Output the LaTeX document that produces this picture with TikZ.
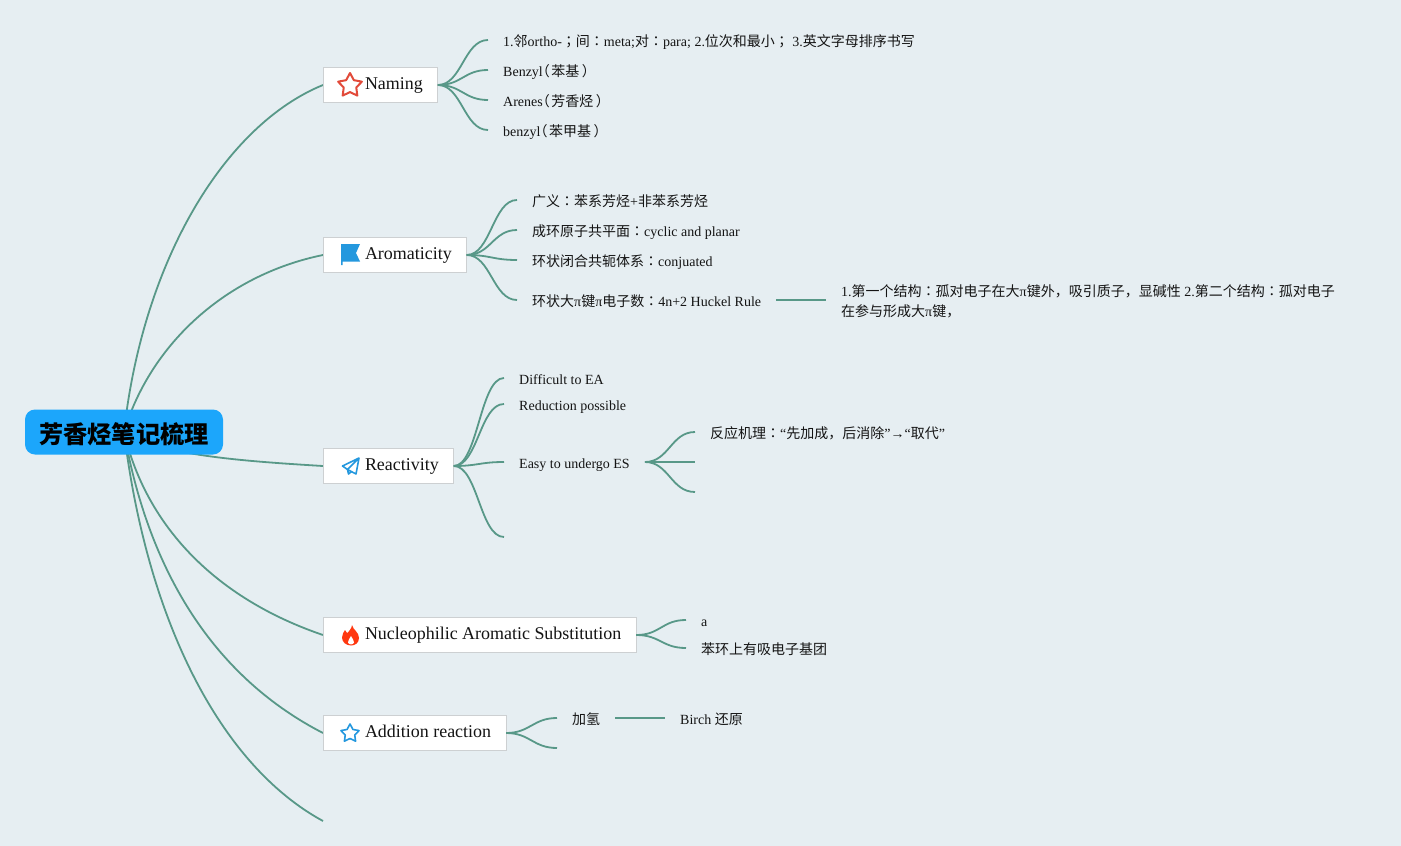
\documentclass[tikz,border=0pt]{standalone}
\usepackage{fontspec}
\usepackage{xcolor}
\setmainfont{Liberation Serif}
\newfontfamily\cjk{Noto Sans CJK SC}
\newfontfamily\cjktc{Noto Sans CJK TC}
\newfontfamily\cjkhalf[RawFeature=+halt]{Noto Sans CJK SC}
\newcommand{\cn}[1]{{\cjk #1}}
\newcommand{\cq}[1]{{\cjktc #1}}
\newcommand{\lparen}{{\cjkhalf （}\kern1.5pt}
\newcommand{\rparen}{\kern2.5pt{\cjkhalf ）}}
\usetikzlibrary{backgrounds,shapes.geometric}
\definecolor{paper}{RGB}{230,238,242}
\definecolor{linkgreen}{RGB}{88,152,136}
\definecolor{rootblue}{RGB}{28,166,251}
\definecolor{boxgray}{RGB}{205,208,210}
\definecolor{iconred}{RGB}{226,74,58}
\definecolor{iconblue}{RGB}{36,152,222}
\definecolor{flamered}{RGB}{255,56,16}
\definecolor{inkblack}{RGB}{20,20,20}
\tikzset{
  link/.style={linkgreen,line width=1.8pt},
  fork/.style={link,out=0,in=180,out distance=24pt,in distance=24pt},
  branch/.style={draw=boxgray,fill=white,line width=0.8pt,anchor=west,outer sep=0pt,inner xsep=15pt,inner ysep=0pt,
    minimum height=35pt,text height=12.1pt,text depth=3.9pt,font=\fontsize{17.95}{20}\selectfont,text=inkblack},
  leaf/.style={anchor=west,inner xsep=15pt,inner ysep=0pt,text height=13pt,text depth=1pt,
    font=\fontsize{14}{20}\selectfont,text=inkblack},
  note/.style={anchor=west,inner xsep=15pt,inner ysep=0pt,align=left,
    font=\fontsize{14}{20}\selectfont,text=inkblack},
}
\begin{document}
\begin{tikzpicture}[x=1pt,y=-1pt]
  % --- Page ---
  \useasboundingbox (0,0) rectangle (1401,846);
  \begin{scope}[on background layer]
    \fill[paper] (0,0) rectangle (1401,846);
  \end{scope}

  % --- Root ---
  \node[fill=rootblue,rounded corners=10pt,minimum width=198pt,minimum height=45pt,inner sep=0pt,
    text height=27pt,text depth=4pt,font=\fontsize{24.2}{28}\selectfont\cjk\bfseries,text=black] (root) at (124,432) {芳香烃笔记梳理};

  % --- Branches ---
  \node[branch] (naming) at (323,85) {\hspace{27pt}Naming};
  \node[branch] (aroma) at (323,255) {\hspace{27pt}Aromaticity};
  \node[branch] (react) at (323,466) {\hspace{27pt}Reactivity};
  \node[branch] (nucleo) at (323,635) {\hspace{27pt}Nucleophilic Aromatic Substitution};
  \node[branch] (addition) at (323,733) {\hspace{27pt}Addition reaction};
  \coordinate (lastend) at (323,821);

  % --- Curves from the root, under its box ---
  \begin{scope}[on background layer]
    \draw[link] (root.center) .. controls (143,260) and (225,125) .. (naming.west);
    \draw[link] (root.center) .. controls (150,345) and (225,275) .. (aroma.west);
    \draw[link] (root.center) .. controls (160,455) and (240,461) .. (react.west);
    \draw[link] (root.center) .. controls (147,530) and (220,600) .. (nucleo.west);
    \draw[link] (root.center) .. controls (150,580) and (220,680) .. (addition.west);
    \draw[link] (root.center) .. controls (147,620) and (220,765) .. (lastend);
  \end{scope}

  % --- Icons ---
  \node[star,star points=5,star point ratio=1.9,draw=iconred,line width=2pt,line join=round,
    minimum size=25pt,inner sep=0pt] (staricon) at (350,85.5) {};
  \fill[iconblue] (341,244) -- (360,244) -- (356,253) -- (360,261.5) -- (342.5,261.5)
    -- (342.5,265) -- (341,265) -- cycle;
  \draw[iconblue,line width=1.6pt,line join=round] (359,458) -- (342.5,466) -- (347.5,469.5) -- cycle
    (359,458) -- (356,474) -- (347.5,469.5) -- (348.5,474) -- (351.5,471.5);
  \fill[flamered] (352,625) .. controls (353,630) and (359,632) .. (359,638)
    .. controls (359,643) and (355,645.5) .. (351,645.5)
    .. controls (346,645.5) and (342,642) .. (342,637.5)
    .. controls (342,634) and (344,632) .. (345,630)
    .. controls (346,632) and (347,633) .. (347.5,633)
    .. controls (349,631) and (352,628) .. (352,625) -- cycle;
  \fill[white] (351,636) .. controls (352,639) and (354.5,640) .. (354,642.5)
    .. controls (353.5,645) and (348.5,645) .. (348,642.5)
    .. controls (347.5,640) and (350,639) .. (351,636) -- cycle;
  \node[star,star points=5,star point ratio=1.9,draw=iconblue,line width=1.6pt,line join=round,
    minimum size=19pt,inner sep=0pt] (stariconb) at (350,733.5) {};

  % --- Naming ---
  \foreach \i/\yy/\txt in {
    a/40/{1.\cn{邻}ortho-\cq{；}\cn{间}\cq{：}meta;\cn{对}\cq{：}para; 2.\cn{位次和最小}\cq{；} 3.\cn{英文字母排序书写}},
    b/70/{Benzyl\lparen\cn{苯基}\rparen},
    c/100/{Arenes\lparen\cn{芳香烃}\rparen},
    d/130/{benzyl\lparen\cn{苯甲基}\rparen}}{%
    \node[leaf] (naming\i) at (488,\yy) {\txt};
    \draw[fork] (naming.east) to (naming\i.west);
  }

  % --- Aromaticity ---
  \foreach \i/\yy/\txt in {
    a/200/{\cn{广义}\cq{：}\cn{苯系芳烃}+\cn{非苯系芳烃}},
    b/230/{\cn{成环原子共平面}\cq{：}cyclic and planar},
    c/260/{\cn{环状闭合共轭体系}\cq{：}conjuated},
    d/300/{\cn{环状大}π\cn{键}π\cn{电子数}\cq{：}4n+2 Huckel Rule}}{%
    \node[leaf] (aroma\i) at (517,\yy) {\txt};
    \draw[fork] (aroma.east) to (aroma\i.west);
  }
  \node[note] (huckelnote) at (826,301)
    {1.\cn{第一个结构}\cq{：}\cn{孤对电子在大}π\cn{键外，吸引质子，显碱性} 2.\cn{第二个结构}\cq{：}\cn{孤对电子}\\
     \cn{在参与形成大}π\cn{键，}};
  \draw[link] (aromad.east) -- (huckelnote.west |- aromad.east);

  % --- Reactivity ---
  \foreach \i/\yy/\txt in {
    a/378/{Difficult to EA},
    b/404/{Reduction possible},
    c/462/{Easy to undergo ES}}{%
    \node[leaf] (react\i) at (504,\yy) {\txt};
    \draw[fork] (react.east) to (react\i.west);
  }
  \coordinate (reactd) at (504,537);
  \draw[fork] (react.east) to (reactd);
  \node[leaf] (mech) at (695,432)
    {\cn{反应机理}\cq{：}“\cn{先加成，后消除}”→“\cn{取代}”};
  \coordinate (mechb) at (695,462);
  \coordinate (mechc) at (695,492);
  \draw[fork] (reactc.east) to (mech.west);
  \draw[fork] (reactc.east) to (mechb);
  \draw[fork] (reactc.east) to (mechc);

  % --- Nucleophilic ---
  \node[leaf] (nucleoa) at (686,620) {a};
  \node[leaf] (nucleob) at (686,648) {\cn{苯环上有吸电子基团}};
  \draw[fork] (nucleo.east) to (nucleoa.west);
  \draw[fork] (nucleo.east) to (nucleob.west);

  % --- Addition ---
  \node[leaf] (hydro) at (557,718) {\cn{加氢}};
  \coordinate (additionb) at (557,748);
  \node[leaf] (birch) at (665,718) {Birch \cn{还原}};
  \draw[fork] (addition.east) to (hydro.west);
  \draw[fork] (addition.east) to (additionb);
  \draw[link] (hydro.east) -- (birch.west);
\end{tikzpicture}
\end{document}
